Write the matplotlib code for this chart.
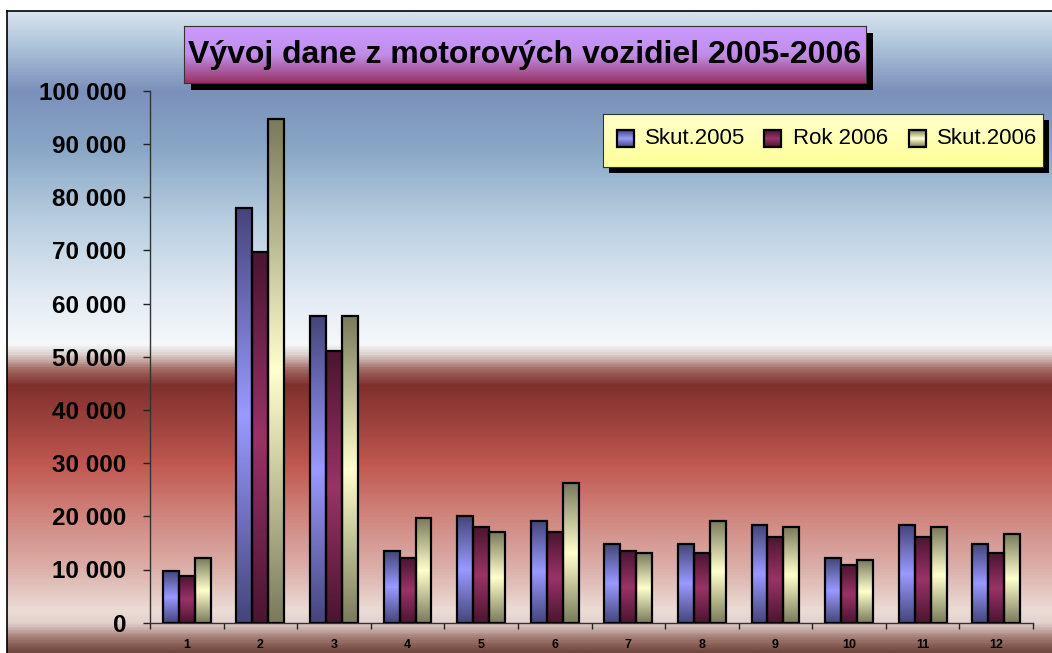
import numpy as np
import matplotlib.pyplot as plt
from matplotlib.colors import LinearSegmentedColormap
from matplotlib.patches import Rectangle
from matplotlib.ticker import FuncFormatter, MultipleLocator

plt.rcParams['font.family'] = ['Liberation Sans', 'DejaVu Sans']

months = [str(m) for m in range(1, 13)]
skut_2005 = [9700, 77900, 57700, 13500, 20100, 19200, 14800, 14800, 18300, 12200, 18300, 14800]
rok_2006 = [8700, 69600, 51100, 12200, 17900, 17000, 13500, 13100, 16200, 10900, 16200, 13100]
skut_2006 = [12200, 94600, 57700, 19700, 17000, 26300, 13100, 19200, 17900, 11700, 17900, 16600]
series_names = ["Skut.2005", "Rok 2006", "Skut.2006"]
title = "Vývoj dane z motorových vozidiel 2005-2006"

# (light, dark) colours per series, bars fade dark-light-dark
series_colors = [("#9999ff", "#45457a"), ("#993366", "#4a1530"), ("#ffffcc", "#7a7a5c")]

W, H = 1052, 653
fig = plt.figure(figsize=(W / 100, H / 100), dpi=100)


def fbox(x0, y0, x1, y1):
    # pixel box (top-left origin) -> figure fraction rect
    return [x0 / W, 1 - y1 / H, (x1 - x0) / W, (y1 - y0) / H]


def shadow(x0, y0, x1, y1, off):
    r = fbox(x0 + off, y0 + off, x1 + off, y1 + off)
    fig.patches.append(Rectangle((r[0], r[1]), r[2], r[3], transform=fig.transFigure,
                                 facecolor="black", edgecolor="none", zorder=1))


# chart area background
bg_stops = [(11, "#d8e4ee"), (40, "#b4c8dc"), (90, "#7a90ba"), (150, "#8aa8c6"),
            (220, "#b8cee0"), (300, "#e4ecf4"), (345, "#f6f8fa"), (356, "#d8c8c4"),
            (370, "#a06860"), (385, "#80302c"), (420, "#9a403c"), (465, "#c05850"),
            (520, "#d08880"), (570, "#dcb0aa"), (612, "#ecdcd6"), (625, "#e2d0cc"),
            (640, "#a07870"), (653, "#704840")]
bg_cmap = LinearSegmentedColormap.from_list(
    "bg", [((y - 11) / (653 - 11), c) for y, c in bg_stops])
bg = fig.add_axes(fbox(7, 11, W + 5, H), zorder=0)
bg.imshow(np.linspace(0, 1, 700).reshape(-1, 1), cmap=bg_cmap, aspect="auto",
          extent=[0, 1, 0, 1], interpolation="bilinear")
bg.set_xticks([])
bg.set_yticks([])
for s in ["right", "bottom"]:
    bg.spines[s].set_visible(False)
for s in ["left", "top"]:
    bg.spines[s].set_color("black")
    bg.spines[s].set_linewidth(1.2)

# main chart
ax = fig.add_axes(fbox(150, 90.7, 1033, 622.7), zorder=2)
ax.set_facecolor("none")
w = 0.217
x = np.arange(len(months))
grad = np.abs(np.linspace(-1, 1, 256)).reshape(-1, 1)
for k, vals in enumerate([skut_2005, rok_2006, skut_2006]):
    light, dark = series_colors[k]
    cm = LinearSegmentedColormap.from_list("s%d" % k, [light, dark])
    bars = ax.bar(x + (k - 1) * w, vals, w, color="none", edgecolor="black",
                  linewidth=1.6, zorder=3)
    for b in bars:
        im = ax.imshow(grad, cmap=cm, aspect="auto", interpolation="bilinear",
                       extent=[b.get_x(), b.get_x() + b.get_width(), 0, b.get_height()],
                       zorder=2.5)
        im.set_clip_path(b)

ax.set_xlim(-0.5, len(months) - 0.5)
ax.set_ylim(0, 100000)
ax.set_xticks(x)
ax.set_xticklabels(months, fontsize=9, fontweight="bold")
ax.set_xticks(np.arange(-0.5, len(months), 1), minor=True)
ax.tick_params(axis="x", which="major", length=0, pad=12)
ax.tick_params(axis="x", which="minor", length=4, width=1, color="#222222")
ax.yaxis.set_major_locator(MultipleLocator(10000))
ax.yaxis.set_major_formatter(FuncFormatter(lambda v, p: f"{int(v):,}".replace(",", " ")))
ax.tick_params(axis="y", length=5, width=1, pad=12, labelsize=17.5, color="#222222")
for lab in ax.get_yticklabels():
    lab.set_fontweight("bold")
for s in ["top", "right"]:
    ax.spines[s].set_visible(False)
for s in ["left", "bottom"]:
    ax.spines[s].set_color("#333333")
    ax.spines[s].set_linewidth(1)

# title box
shadow(184, 26, 866, 83, 7)
tx = fig.add_axes(fbox(184, 26, 866, 83), zorder=3)
tcm = LinearSegmentedColormap.from_list("t", ["#cc99ff", "#c08ee8", "#993366"])
tx.imshow(np.linspace(0, 1, 100).reshape(-1, 1), cmap=tcm, aspect="auto",
          extent=[0, 1, 0, 1], interpolation="bilinear")
tx.set_xticks([])
tx.set_yticks([])
for s in tx.spines.values():
    s.set_color("#333333")
tx.text(0.5, 0.5, title, ha="center", va="center", fontsize=23, fontweight="bold",
        transform=tx.transAxes)

# legend box
shadow(603, 114, 1043, 167, 6)
lg = fig.add_axes(fbox(603, 114, 1043, 167), zorder=3)
lcm = LinearSegmentedColormap.from_list("l", ["#ffffcc", "#ffff99"])
lg.imshow(np.linspace(0, 1, 100).reshape(-1, 1), cmap=lcm, aspect="auto",
          extent=[0, 440, 53, 0], interpolation="bilinear")
lg.set_xlim(0, 440)
lg.set_ylim(53, 0)
lg.set_xticks([])
lg.set_yticks([])
for s in lg.spines.values():
    s.set_color("#333333")
mgrad = np.abs(np.linspace(-1, 1, 64)).reshape(-1, 1)
for k, (name, mx, txp) in enumerate(zip(series_names, [14, 161, 306], [42, 190, 334])):
    light, dark = series_colors[k]
    cm = LinearSegmentedColormap.from_list("m%d" % k, [light, dark])
    sq = Rectangle((mx, 16), 17, 17, facecolor="none", edgecolor="black", linewidth=1.6,
                   zorder=3)
    lg.add_patch(sq)
    im = lg.imshow(mgrad, cmap=cm, aspect="auto", extent=[mx, mx + 17, 33, 16], zorder=2)
    im.set_clip_path(sq)
    lg.text(txp, 24.5, name, fontsize=16, va="center", ha="left")
lg.set_xlim(0, 440)
lg.set_ylim(53, 0)

fig.savefig("out.png", dpi=100)
